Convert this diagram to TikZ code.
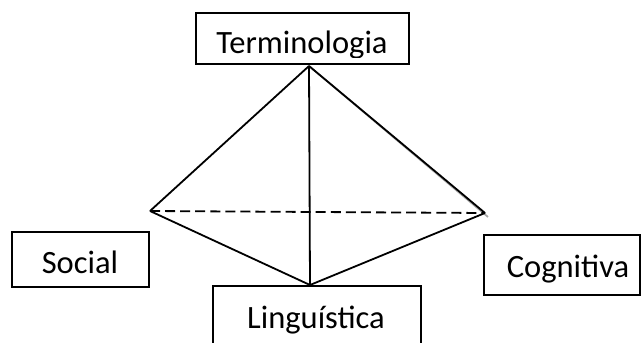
\documentclass[tikz,border=0pt]{standalone}
\usepackage{fontspec}
\setmainfont{Carlito}
\tikzset{
  boxnode/.style={draw=black, line width=1.3pt, inner sep=0pt, fill=none},
  lbl/.style={anchor=base, inner sep=0pt, font=\fontsize{24.4pt}{29pt}\selectfont},
  edge/.style={line width=1.35pt, black},
  hidden/.style={line width=1.35pt, black, dash pattern=on 7.5pt off 3.8pt},
}
\begin{document}
\begin{tikzpicture}[x=0.75pt,y=-0.75pt]
\useasboundingbox (0,0) rectangle (641,342);
% tetrahedron vertices
\coordinate (A) at (309,66);
\coordinate (L) at (150,211);
\coordinate (R) at (485,213);
\coordinate (B) at (310,285);
\coordinate (Rs) at (488,217);
% boxes
\node[boxnode, minimum width=213*0.75pt, minimum height=51*0.75pt] (tbox) at (302.5,38.5) {};
\begin{scope}
\clip (196,13) rectangle (409,58);
\node[lbl] (tlab) at (302,54) {Terminologia};
\end{scope}
\node[boxnode, minimum width=137*0.75pt, minimum height=55*0.75pt] (sbox) at (80.5,259.5) {};
\node[lbl] (slab) at (80,273) {Social};
\node[boxnode, minimum width=156*0.75pt, minimum height=60*0.75pt] (cbox) at (562,265) {};
\node[lbl] (clab) at (568,277) {Cognitiva};
\node[boxnode, minimum width=208*0.75pt, minimum height=90*0.75pt] (lbox) at (317,331) {};
\node[lbl] (llab) at (316,328) {Linguística};
% edges
\draw[line width=1.3pt, gray!70] (A) -- (Rs);
\draw[edge] (A) -- (L);
\draw[edge] (A) -- (B);
\draw[edge] (A) -- (R);
\draw[edge] (L) -- (B);
\draw[edge] (R) -- (B);
\draw[hidden] (L) -- (R);
\end{tikzpicture}
\end{document}
